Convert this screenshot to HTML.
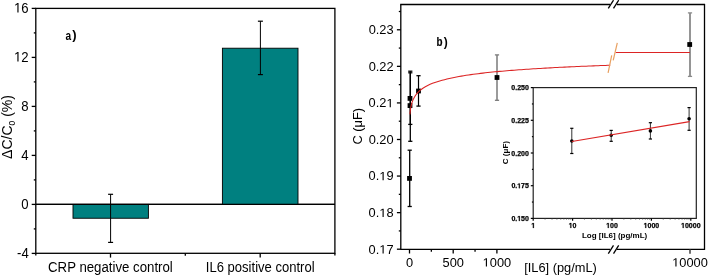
<!DOCTYPE html>
<html><head><meta charset="utf-8"><style>
html,body{margin:0;padding:0;background:#fff;width:708px;height:275px;overflow:hidden}
svg{display:block;will-change:transform}
text{font-family:"Liberation Sans",sans-serif;fill:#000}
</style></head><body>
<svg width="708" height="275" viewBox="0 0 708 275">
<rect x="35.8" y="8.4" width="299.10" height="244.90" fill="none" stroke="#000" stroke-width="1.3"/>
<line x1="35.80" y1="204.40" x2="334.90" y2="204.40" stroke="#000" stroke-width="1.2"/>
<rect x="73.0" y="204.40" width="75.40" height="13.84" fill="#008080" stroke="#000" stroke-width="0.9"/>
<rect x="222.4" y="48.21" width="75.60" height="156.19" fill="#008080" stroke="#000" stroke-width="0.9"/>
<line x1="35.80" y1="204.40" x2="334.90" y2="204.40" stroke="#000" stroke-width="1.2"/>
<line x1="110.60" y1="194.30" x2="110.60" y2="242.40" stroke="#000" stroke-width="1"/>
<line x1="108.10" y1="194.30" x2="113.10" y2="194.30" stroke="#000" stroke-width="1.2"/>
<line x1="108.10" y1="242.40" x2="113.10" y2="242.40" stroke="#000" stroke-width="1.2"/>
<line x1="260.40" y1="21.20" x2="260.40" y2="74.60" stroke="#000" stroke-width="1"/>
<line x1="257.90" y1="21.20" x2="262.90" y2="21.20" stroke="#000" stroke-width="1.2"/>
<line x1="257.90" y1="74.60" x2="262.90" y2="74.60" stroke="#000" stroke-width="1.2"/>
<line x1="31.70" y1="253.40" x2="35.80" y2="253.40" stroke="#000" stroke-width="1.3"/>
<text transform="translate(28.70,257.60) scale(0.94,1)" font-size="14" text-anchor="end" font-weight="normal">-4</text>
<line x1="31.70" y1="204.40" x2="35.80" y2="204.40" stroke="#000" stroke-width="1.3"/>
<text transform="translate(28.70,208.60) scale(0.94,1)" font-size="14" text-anchor="end" font-weight="normal">0</text>
<line x1="31.70" y1="155.40" x2="35.80" y2="155.40" stroke="#000" stroke-width="1.3"/>
<text transform="translate(28.70,159.60) scale(0.94,1)" font-size="14" text-anchor="end" font-weight="normal">4</text>
<line x1="31.70" y1="106.40" x2="35.80" y2="106.40" stroke="#000" stroke-width="1.3"/>
<text transform="translate(28.70,110.60) scale(0.94,1)" font-size="14" text-anchor="end" font-weight="normal">8</text>
<line x1="31.70" y1="57.40" x2="35.80" y2="57.40" stroke="#000" stroke-width="1.3"/>
<text transform="translate(14.06,61.60) scale(0.94,1)" font-size="14" text-anchor="start" font-weight="normal"> 2</text>
<path transform="translate(14.062,61.600) scale(0.00643,-0.00684)" d="M515 0L515 1237L197 1010L197 1180L530 1409L696 1409L696 0Z" fill="#000"/>
<line x1="31.70" y1="8.40" x2="35.80" y2="8.40" stroke="#000" stroke-width="1.3"/>
<text transform="translate(14.06,12.60) scale(0.94,1)" font-size="14" text-anchor="start" font-weight="normal"> 6</text>
<path transform="translate(14.062,12.600) scale(0.00643,-0.00684)" d="M515 0L515 1237L197 1010L197 1180L530 1409L696 1409L696 0Z" fill="#000"/>
<line x1="33.80" y1="228.90" x2="35.80" y2="228.90" stroke="#000" stroke-width="1.3"/>
<line x1="33.80" y1="179.90" x2="35.80" y2="179.90" stroke="#000" stroke-width="1.3"/>
<line x1="33.80" y1="130.90" x2="35.80" y2="130.90" stroke="#000" stroke-width="1.3"/>
<line x1="33.80" y1="81.90" x2="35.80" y2="81.90" stroke="#000" stroke-width="1.3"/>
<line x1="33.80" y1="32.90" x2="35.80" y2="32.90" stroke="#000" stroke-width="1.3"/>
<line x1="110.50" y1="253.30" x2="110.50" y2="257.60" stroke="#000" stroke-width="1.3"/>
<line x1="260.20" y1="253.30" x2="260.20" y2="257.60" stroke="#000" stroke-width="1.3"/>
<line x1="185.30" y1="253.30" x2="185.30" y2="255.80" stroke="#000" stroke-width="1.3"/>
<line x1="35.80" y1="253.30" x2="35.80" y2="255.50" stroke="#000" stroke-width="1.3"/>
<line x1="334.90" y1="253.30" x2="334.90" y2="255.50" stroke="#000" stroke-width="1.3"/>
<text transform="translate(110.40,271.80) scale(0.945,1)" font-size="14" text-anchor="middle" font-weight="normal">CRP negative control</text>
<text transform="translate(260.20,271.80) scale(0.933,1)" font-size="14" text-anchor="middle" font-weight="normal">IL6 positive control</text>
<text transform="translate(65.50,39.60) scale(0.78,1)" font-size="13" text-anchor="start" font-weight="bold">a</text>
<text x="72.30" y="39.40" font-size="13" text-anchor="start" font-weight="bold">)</text>
<text transform="translate(12.2,127) rotate(-90)" font-size="14" text-anchor="middle">ΔC/C<tspan font-size="8.5" dy="3.2">0</tspan><tspan dy="-3.2"> (%)</tspan></text>
<line x1="400.80" y1="4.50" x2="400.80" y2="249.30" stroke="#000" stroke-width="1.3"/>
<line x1="704.50" y1="4.50" x2="704.50" y2="249.30" stroke="#000" stroke-width="1.3"/>
<line x1="400.20" y1="4.50" x2="610.00" y2="4.50" stroke="#000" stroke-width="1.3"/>
<line x1="617.00" y1="4.50" x2="705.10" y2="4.50" stroke="#000" stroke-width="1.3"/>
<line x1="400.20" y1="249.30" x2="610.00" y2="249.30" stroke="#000" stroke-width="1.3"/>
<line x1="617.00" y1="249.30" x2="705.10" y2="249.30" stroke="#000" stroke-width="1.3"/>
<line x1="608.30" y1="8.40" x2="613.50" y2="0.20" stroke="#000" stroke-width="1.3"/>
<line x1="608.30" y1="253.60" x2="613.50" y2="245.40" stroke="#000" stroke-width="1.3"/>
<line x1="613.50" y1="8.40" x2="618.70" y2="0.20" stroke="#000" stroke-width="1.3"/>
<line x1="613.50" y1="253.60" x2="618.70" y2="245.40" stroke="#000" stroke-width="1.3"/>
<line x1="396.90" y1="249.20" x2="400.80" y2="249.20" stroke="#000" stroke-width="1.3"/>
<text transform="translate(368.61,253.50) scale(1.07,1)" font-size="12" text-anchor="start" font-weight="normal">0. 7</text>
<path transform="translate(379.318,253.500) scale(0.00627,-0.00586)" d="M515 0L515 1237L197 1010L197 1180L530 1409L696 1409L696 0Z" fill="#000"/>
<line x1="396.90" y1="212.63" x2="400.80" y2="212.63" stroke="#000" stroke-width="1.3"/>
<text transform="translate(368.61,216.93) scale(1.07,1)" font-size="12" text-anchor="start" font-weight="normal">0. 8</text>
<path transform="translate(379.318,216.930) scale(0.00627,-0.00586)" d="M515 0L515 1237L197 1010L197 1180L530 1409L696 1409L696 0Z" fill="#000"/>
<line x1="396.90" y1="176.06" x2="400.80" y2="176.06" stroke="#000" stroke-width="1.3"/>
<text transform="translate(368.61,180.36) scale(1.07,1)" font-size="12" text-anchor="start" font-weight="normal">0. 9</text>
<path transform="translate(379.318,180.360) scale(0.00627,-0.00586)" d="M515 0L515 1237L197 1010L197 1180L530 1409L696 1409L696 0Z" fill="#000"/>
<line x1="396.90" y1="139.49" x2="400.80" y2="139.49" stroke="#000" stroke-width="1.3"/>
<text transform="translate(393.60,143.79) scale(1.07,1)" font-size="12" text-anchor="end" font-weight="normal">0.20</text>
<line x1="396.90" y1="102.92" x2="400.80" y2="102.92" stroke="#000" stroke-width="1.3"/>
<text transform="translate(368.61,107.22) scale(1.07,1)" font-size="12" text-anchor="start" font-weight="normal">0.2 </text>
<path transform="translate(386.459,107.220) scale(0.00627,-0.00586)" d="M515 0L515 1237L197 1010L197 1180L530 1409L696 1409L696 0Z" fill="#000"/>
<line x1="396.90" y1="66.35" x2="400.80" y2="66.35" stroke="#000" stroke-width="1.3"/>
<text transform="translate(393.60,70.65) scale(1.07,1)" font-size="12" text-anchor="end" font-weight="normal">0.22</text>
<line x1="396.90" y1="29.78" x2="400.80" y2="29.78" stroke="#000" stroke-width="1.3"/>
<text transform="translate(393.60,34.08) scale(1.07,1)" font-size="12" text-anchor="end" font-weight="normal">0.23</text>
<line x1="398.80" y1="230.92" x2="400.80" y2="230.92" stroke="#000" stroke-width="1.3"/>
<line x1="398.80" y1="194.35" x2="400.80" y2="194.35" stroke="#000" stroke-width="1.3"/>
<line x1="398.80" y1="157.78" x2="400.80" y2="157.78" stroke="#000" stroke-width="1.3"/>
<line x1="398.80" y1="121.21" x2="400.80" y2="121.21" stroke="#000" stroke-width="1.3"/>
<line x1="398.80" y1="84.64" x2="400.80" y2="84.64" stroke="#000" stroke-width="1.3"/>
<line x1="398.80" y1="48.07" x2="400.80" y2="48.07" stroke="#000" stroke-width="1.3"/>
<line x1="398.80" y1="11.50" x2="400.80" y2="11.50" stroke="#000" stroke-width="1.3"/>
<line x1="409.50" y1="249.30" x2="409.50" y2="253.50" stroke="#000" stroke-width="1.3"/>
<text transform="translate(409.50,266.60) scale(1.07,1)" font-size="12" text-anchor="middle" font-weight="normal">0</text>
<line x1="453.20" y1="249.30" x2="453.20" y2="253.50" stroke="#000" stroke-width="1.3"/>
<text transform="translate(453.20,266.60) scale(1.07,1)" font-size="12" text-anchor="middle" font-weight="normal">500</text>
<line x1="496.90" y1="249.30" x2="496.90" y2="253.50" stroke="#000" stroke-width="1.3"/>
<text transform="translate(482.62,266.60) scale(1.07,1)" font-size="12" text-anchor="start" font-weight="normal"> 000</text>
<path transform="translate(482.618,266.600) scale(0.00627,-0.00586)" d="M515 0L515 1237L197 1010L197 1180L530 1409L696 1409L696 0Z" fill="#000"/>
<line x1="431.35" y1="249.30" x2="431.35" y2="251.80" stroke="#000" stroke-width="1.3"/>
<line x1="475.05" y1="249.30" x2="475.05" y2="251.80" stroke="#000" stroke-width="1.3"/>
<line x1="690.00" y1="249.30" x2="690.00" y2="253.70" stroke="#333" stroke-width="1.4"/>
<text transform="translate(672.15,266.60) scale(1.07,1)" font-size="12" text-anchor="start" font-weight="normal"> 0000</text>
<path transform="translate(672.148,266.600) scale(0.00627,-0.00586)" d="M515 0L515 1237L197 1010L197 1180L530 1409L696 1409L696 0Z" fill="#000"/>
<text transform="translate(524.20,271.80) scale(1.07,1)" font-size="12" text-anchor="start" font-weight="normal">[IL6] (pg/mL)</text>
<text transform="translate(436.60,45.50) scale(0.82,1)" font-size="12" text-anchor="start" font-weight="bold" stroke="#000" stroke-width="0.2">b</text>
<text x="443.80" y="45.50" font-size="12" text-anchor="start" font-weight="bold">)</text>
<text transform="translate(361.6,126.2) rotate(-90) scale(1.07,1)" font-size="12" text-anchor="middle">C (μF)</text>
<line x1="409.70" y1="150.20" x2="409.70" y2="206.50" stroke="#000" stroke-width="1.3"/>
<line x1="407.60" y1="150.20" x2="411.80" y2="150.20" stroke="#000" stroke-width="1.3"/>
<line x1="407.60" y1="206.50" x2="411.80" y2="206.50" stroke="#000" stroke-width="1.3"/>
<line x1="410.30" y1="71.20" x2="410.30" y2="124.40" stroke="#000" stroke-width="1.3"/>
<line x1="408.20" y1="71.20" x2="412.40" y2="71.20" stroke="#000" stroke-width="1.3"/>
<line x1="408.20" y1="124.40" x2="412.40" y2="124.40" stroke="#000" stroke-width="1.3"/>
<line x1="410.30" y1="72.80" x2="410.30" y2="141.30" stroke="#000" stroke-width="1.3"/>
<line x1="408.20" y1="72.80" x2="412.40" y2="72.80" stroke="#000" stroke-width="1.3"/>
<line x1="408.20" y1="141.30" x2="412.40" y2="141.30" stroke="#000" stroke-width="1.3"/>
<line x1="418.50" y1="75.70" x2="418.50" y2="106.10" stroke="#000" stroke-width="1.2"/>
<line x1="416.40" y1="75.70" x2="420.60" y2="75.70" stroke="#000" stroke-width="1.3"/>
<line x1="416.40" y1="106.10" x2="420.60" y2="106.10" stroke="#000" stroke-width="1.3"/>
<line x1="497.00" y1="54.90" x2="497.00" y2="100.30" stroke="#7a7a7a" stroke-width="1.5"/>
<line x1="494.90" y1="54.90" x2="499.10" y2="54.90" stroke="#7a7a7a" stroke-width="1.3"/>
<line x1="494.90" y1="100.30" x2="499.10" y2="100.30" stroke="#7a7a7a" stroke-width="1.3"/>
<line x1="690.00" y1="12.90" x2="690.00" y2="76.40" stroke="#8a8a8a" stroke-width="1.8"/>
<line x1="687.90" y1="12.90" x2="692.10" y2="12.90" stroke="#8a8a8a" stroke-width="1.3"/>
<line x1="687.90" y1="76.40" x2="692.10" y2="76.40" stroke="#8a8a8a" stroke-width="1.3"/>
<rect x="407.10" y="176.00" width="4.8" height="4.8" fill="#000"/>
<rect x="407.60" y="96.00" width="4.8" height="4.8" fill="#000"/>
<rect x="407.60" y="103.20" width="4.8" height="4.8" fill="#000"/>
<rect x="416.10" y="88.60" width="4.8" height="4.8" fill="#000"/>
<rect x="494.60" y="75.10" width="4.8" height="4.8" fill="#000"/>
<rect x="687.30" y="42.10" width="4.8" height="4.8" fill="#000"/>
<polyline points="409.90,114.33 410.32,110.39 410.74,107.75 411.16,105.73 411.58,104.07 412.00,102.67 412.42,101.45 412.85,100.37 413.27,99.40 413.69,98.51 414.11,97.70 414.53,96.95 414.95,96.26 415.37,95.61 415.79,95.01 416.21,94.44 416.63,93.90 417.05,93.40 417.48,92.92 417.90,92.46 418.32,92.02 418.74,91.60 419.16,91.20 419.58,90.82 420.00,90.45 420.50,90.03 422.90,88.24 425.30,86.74 427.70,85.46 430.11,84.34 432.51,83.35 434.91,82.46 437.31,81.66 439.71,80.93 442.11,80.27 444.51,79.65 446.91,79.06 449.32,78.49 451.72,77.96 454.12,77.47 456.52,77.00 458.92,76.55 461.32,76.13 463.72,75.73 466.12,75.35 468.53,74.99 470.93,74.64 473.33,74.31 475.73,73.99 478.13,73.69 480.53,73.39 482.93,73.11 485.33,72.84 487.74,72.58 490.14,72.32 492.54,72.08 494.94,71.84 497.34,71.61 499.74,71.39 502.14,71.17 504.54,70.96 506.95,70.76 509.35,70.56 511.75,70.37 514.15,70.18 516.55,70.00 518.95,69.82 521.35,69.65 523.75,69.48 526.16,69.31 528.56,69.15 530.96,68.99 533.36,68.84 535.76,68.69 538.16,68.54 540.56,68.40 542.96,68.26 545.37,68.12 547.77,67.99 550.17,67.86 552.57,67.73 554.97,67.60 557.37,67.47 559.77,67.35 562.17,67.23 564.58,67.12 566.98,67.00 569.38,66.89 571.78,66.78 574.18,66.67 576.58,66.56 578.98,66.45 581.38,66.35 583.79,66.25 586.19,66.15 588.59,66.05 590.99,65.95 593.39,65.86 595.79,65.76 598.19,65.67 600.59,65.58 603.00,65.49 605.40,65.40 607.80,65.31 610.20,65.23" fill="none" stroke="#dc2424" stroke-width="1.05"/>
<line x1="615.70" y1="52.50" x2="689.90" y2="52.50" stroke="#dc2424" stroke-width="1.1"/>
<line x1="608.10" y1="72.80" x2="611.70" y2="55.30" stroke="#e8a060" stroke-width="1.2"/>
<line x1="613.20" y1="60.40" x2="617.30" y2="42.80" stroke="#e8a060" stroke-width="1.2"/>
<rect x="533.2" y="87.6" width="163.10" height="130.80" fill="#fff" stroke="#222" stroke-width="1.2"/>
<line x1="530.80" y1="218.40" x2="533.20" y2="218.40" stroke="#000" stroke-width="1.2"/>
<text x="511.38" y="220.90" font-size="7" text-anchor="start" font-weight="bold" stroke="#000" stroke-width="0.25">0. 50</text>
<path transform="translate(517.221,220.900) scale(0.00342,-0.00342)" d="M478 0L478 1170L140 959L140 1180L493 1409L759 1409L759 0Z" fill="#000" stroke="#000" stroke-width="73.14"/>
<line x1="530.80" y1="185.70" x2="533.20" y2="185.70" stroke="#000" stroke-width="1.2"/>
<text x="511.38" y="188.20" font-size="7" text-anchor="start" font-weight="bold" stroke="#000" stroke-width="0.25">0. 75</text>
<path transform="translate(517.221,188.200) scale(0.00342,-0.00342)" d="M478 0L478 1170L140 959L140 1180L493 1409L759 1409L759 0Z" fill="#000" stroke="#000" stroke-width="73.14"/>
<line x1="530.80" y1="153.00" x2="533.20" y2="153.00" stroke="#000" stroke-width="1.2"/>
<text x="528.90" y="155.50" font-size="7" text-anchor="end" font-weight="bold" stroke="#000" stroke-width="0.25">0.200</text>
<line x1="530.80" y1="120.30" x2="533.20" y2="120.30" stroke="#000" stroke-width="1.2"/>
<text x="528.90" y="122.80" font-size="7" text-anchor="end" font-weight="bold" stroke="#000" stroke-width="0.25">0.225</text>
<line x1="530.80" y1="87.60" x2="533.20" y2="87.60" stroke="#000" stroke-width="1.2"/>
<text x="528.90" y="90.10" font-size="7" text-anchor="end" font-weight="bold" stroke="#000" stroke-width="0.25">0.250</text>
<line x1="531.90" y1="202.05" x2="533.20" y2="202.05" stroke="#000" stroke-width="1.2"/>
<line x1="531.90" y1="169.35" x2="533.20" y2="169.35" stroke="#000" stroke-width="1.2"/>
<line x1="531.90" y1="136.65" x2="533.20" y2="136.65" stroke="#000" stroke-width="1.2"/>
<line x1="531.90" y1="103.95" x2="533.20" y2="103.95" stroke="#000" stroke-width="1.2"/>
<line x1="533.20" y1="218.40" x2="533.20" y2="220.80" stroke="#000" stroke-width="1.2"/>
<text x="531.25" y="227.90" font-size="7" text-anchor="start" font-weight="bold" stroke="#000" stroke-width="0.25"> </text>
<path transform="translate(531.253,227.900) scale(0.00342,-0.00342)" d="M478 0L478 1170L140 959L140 1180L493 1409L759 1409L759 0Z" fill="#000" stroke="#000" stroke-width="73.14"/>
<line x1="545.06" y1="218.40" x2="545.06" y2="219.60" stroke="#444" stroke-width="0.8"/>
<line x1="552.00" y1="218.40" x2="552.00" y2="219.60" stroke="#444" stroke-width="0.8"/>
<line x1="556.92" y1="218.40" x2="556.92" y2="219.60" stroke="#444" stroke-width="0.8"/>
<line x1="560.74" y1="218.40" x2="560.74" y2="219.60" stroke="#444" stroke-width="0.8"/>
<line x1="563.86" y1="218.40" x2="563.86" y2="219.60" stroke="#444" stroke-width="0.8"/>
<line x1="566.50" y1="218.40" x2="566.50" y2="219.60" stroke="#444" stroke-width="0.8"/>
<line x1="568.78" y1="218.40" x2="568.78" y2="219.60" stroke="#444" stroke-width="0.8"/>
<line x1="570.80" y1="218.40" x2="570.80" y2="219.60" stroke="#444" stroke-width="0.8"/>
<line x1="572.60" y1="218.40" x2="572.60" y2="220.80" stroke="#000" stroke-width="1.2"/>
<text x="568.71" y="227.90" font-size="7" text-anchor="start" font-weight="bold" stroke="#000" stroke-width="0.25"> 0</text>
<path transform="translate(568.707,227.900) scale(0.00342,-0.00342)" d="M478 0L478 1170L140 959L140 1180L493 1409L759 1409L759 0Z" fill="#000" stroke="#000" stroke-width="73.14"/>
<line x1="584.46" y1="218.40" x2="584.46" y2="219.60" stroke="#444" stroke-width="0.8"/>
<line x1="591.40" y1="218.40" x2="591.40" y2="219.60" stroke="#444" stroke-width="0.8"/>
<line x1="596.32" y1="218.40" x2="596.32" y2="219.60" stroke="#444" stroke-width="0.8"/>
<line x1="600.14" y1="218.40" x2="600.14" y2="219.60" stroke="#444" stroke-width="0.8"/>
<line x1="603.26" y1="218.40" x2="603.26" y2="219.60" stroke="#444" stroke-width="0.8"/>
<line x1="605.90" y1="218.40" x2="605.90" y2="219.60" stroke="#444" stroke-width="0.8"/>
<line x1="608.18" y1="218.40" x2="608.18" y2="219.60" stroke="#444" stroke-width="0.8"/>
<line x1="610.20" y1="218.40" x2="610.20" y2="219.60" stroke="#444" stroke-width="0.8"/>
<line x1="612.00" y1="218.40" x2="612.00" y2="220.80" stroke="#000" stroke-width="1.2"/>
<text x="606.16" y="227.90" font-size="7" text-anchor="start" font-weight="bold" stroke="#000" stroke-width="0.25"> 00</text>
<path transform="translate(606.160,227.900) scale(0.00342,-0.00342)" d="M478 0L478 1170L140 959L140 1180L493 1409L759 1409L759 0Z" fill="#000" stroke="#000" stroke-width="73.14"/>
<line x1="623.86" y1="218.40" x2="623.86" y2="219.60" stroke="#444" stroke-width="0.8"/>
<line x1="630.80" y1="218.40" x2="630.80" y2="219.60" stroke="#444" stroke-width="0.8"/>
<line x1="635.72" y1="218.40" x2="635.72" y2="219.60" stroke="#444" stroke-width="0.8"/>
<line x1="639.54" y1="218.40" x2="639.54" y2="219.60" stroke="#444" stroke-width="0.8"/>
<line x1="642.66" y1="218.40" x2="642.66" y2="219.60" stroke="#444" stroke-width="0.8"/>
<line x1="645.30" y1="218.40" x2="645.30" y2="219.60" stroke="#444" stroke-width="0.8"/>
<line x1="647.58" y1="218.40" x2="647.58" y2="219.60" stroke="#444" stroke-width="0.8"/>
<line x1="649.60" y1="218.40" x2="649.60" y2="219.60" stroke="#444" stroke-width="0.8"/>
<line x1="651.40" y1="218.40" x2="651.40" y2="220.80" stroke="#000" stroke-width="1.2"/>
<text x="643.61" y="227.90" font-size="7" text-anchor="start" font-weight="bold" stroke="#000" stroke-width="0.25"> 000</text>
<path transform="translate(643.614,227.900) scale(0.00342,-0.00342)" d="M478 0L478 1170L140 959L140 1180L493 1409L759 1409L759 0Z" fill="#000" stroke="#000" stroke-width="73.14"/>
<line x1="663.26" y1="218.40" x2="663.26" y2="219.60" stroke="#444" stroke-width="0.8"/>
<line x1="670.20" y1="218.40" x2="670.20" y2="219.60" stroke="#444" stroke-width="0.8"/>
<line x1="675.12" y1="218.40" x2="675.12" y2="219.60" stroke="#444" stroke-width="0.8"/>
<line x1="678.94" y1="218.40" x2="678.94" y2="219.60" stroke="#444" stroke-width="0.8"/>
<line x1="682.06" y1="218.40" x2="682.06" y2="219.60" stroke="#444" stroke-width="0.8"/>
<line x1="684.70" y1="218.40" x2="684.70" y2="219.60" stroke="#444" stroke-width="0.8"/>
<line x1="686.98" y1="218.40" x2="686.98" y2="219.60" stroke="#444" stroke-width="0.8"/>
<line x1="689.00" y1="218.40" x2="689.00" y2="219.60" stroke="#444" stroke-width="0.8"/>
<line x1="690.80" y1="218.40" x2="690.80" y2="220.80" stroke="#000" stroke-width="1.2"/>
<text x="681.07" y="227.90" font-size="7" text-anchor="start" font-weight="bold" stroke="#000" stroke-width="0.25"> 0000</text>
<path transform="translate(681.067,227.900) scale(0.00342,-0.00342)" d="M478 0L478 1170L140 959L140 1180L493 1409L759 1409L759 0Z" fill="#000" stroke="#000" stroke-width="73.14"/>
<text x="614.60" y="238.10" font-size="8" text-anchor="middle" font-weight="bold">Log [IL6] (pg/mL)</text>
<text transform="translate(508.1,152.6) rotate(-90)" font-size="8" font-weight="bold" text-anchor="middle">C (μF)</text>
<line x1="571.80" y1="128.30" x2="571.80" y2="153.50" stroke="#333" stroke-width="1"/>
<line x1="570.20" y1="128.30" x2="573.40" y2="128.30" stroke="#000" stroke-width="1.2"/>
<line x1="570.20" y1="153.50" x2="573.40" y2="153.50" stroke="#000" stroke-width="1.2"/>
<circle cx="571.8" cy="141.0" r="1.8" fill="#000"/>
<line x1="611.20" y1="130.40" x2="611.20" y2="141.30" stroke="#333" stroke-width="1"/>
<line x1="609.60" y1="130.40" x2="612.80" y2="130.40" stroke="#000" stroke-width="1.2"/>
<line x1="609.60" y1="141.30" x2="612.80" y2="141.30" stroke="#000" stroke-width="1.2"/>
<circle cx="611.2" cy="135.3" r="1.8" fill="#000"/>
<line x1="650.40" y1="122.70" x2="650.40" y2="139.00" stroke="#333" stroke-width="1"/>
<line x1="648.80" y1="122.70" x2="652.00" y2="122.70" stroke="#000" stroke-width="1.2"/>
<line x1="648.80" y1="139.00" x2="652.00" y2="139.00" stroke="#000" stroke-width="1.2"/>
<circle cx="650.4" cy="130.9" r="1.8" fill="#000"/>
<line x1="689.10" y1="107.60" x2="689.10" y2="130.30" stroke="#333" stroke-width="1"/>
<line x1="687.50" y1="107.60" x2="690.70" y2="107.60" stroke="#000" stroke-width="1.2"/>
<line x1="687.50" y1="130.30" x2="690.70" y2="130.30" stroke="#000" stroke-width="1.2"/>
<circle cx="689.1" cy="118.7" r="1.8" fill="#000"/>
<line x1="571.80" y1="141.50" x2="689.50" y2="121.60" stroke="#dc2424" stroke-width="1.1"/>
</svg>
</body></html>
